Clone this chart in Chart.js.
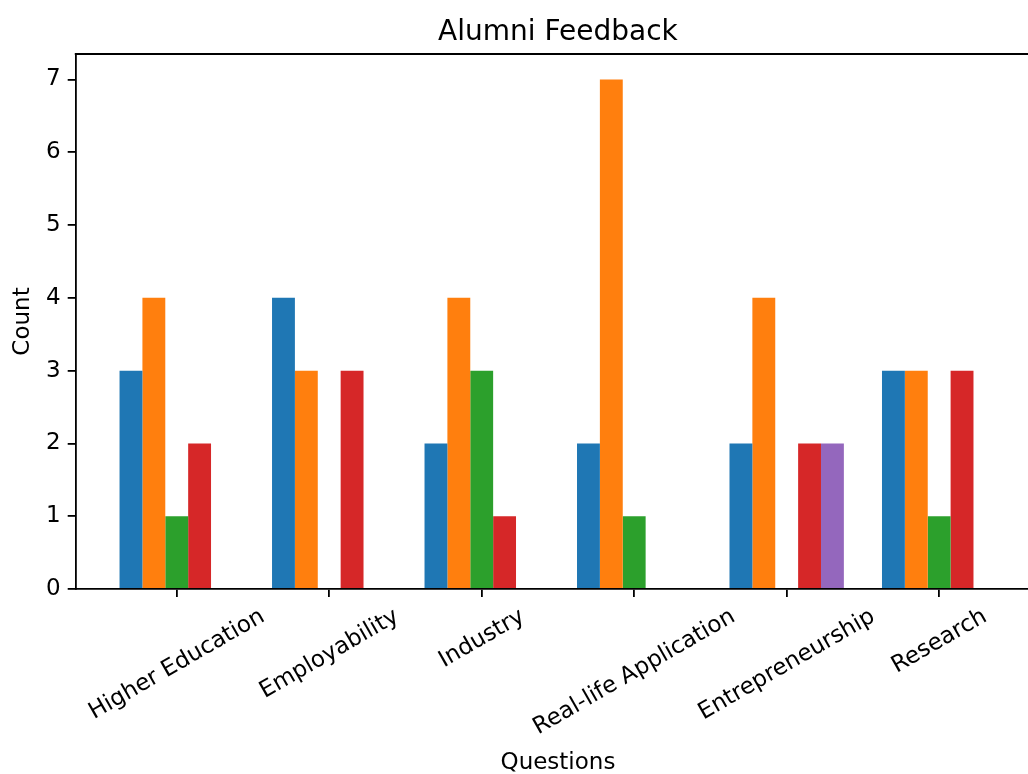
<!DOCTYPE html>
<html>
<head>
<meta charset="utf-8">
<script src="https://cdn.jsdelivr.net/npm/chart.js@4.4.1/dist/chart.umd.min.js"></script>
<style>
  html, body { margin: 0; padding: 0; background: #fff; overflow: hidden; }
  #wrap { width: 1028px; height: 774px; overflow: hidden; }
</style>
</head>
<body>
<div id="wrap">
  <canvas id="chart" width="1060" height="774"></canvas>
</div>
<script>
// data
const categories = ["Higher Education", "Employability", "Industry", "Real-life Application", "Entrepreneurship", "Research"];
const series1 = [3, 4, 2, 2, 2, 3];
const series2 = [4, 3, 4, 7, 4, 3];
const series3 = [1, 0, 3, 1, 0, 1];
const series4 = [2, 3, 1, 0, 2, 3];
const series5 = [0, 0, 0, 0, 2, 0];
const yTickValues = [0, 1, 2, 3, 4, 5, 6, 7];

const titleText = "Alumni Feedback";
const xTitle = "Questions";
const yTitle = "Count";

const colors = ["#1f77b4", "#ff7f0e", "#2ca02c", "#d62728", "#9467bd"];
const allSeries = [series1, series2, series3, series4, series5];

const FONT = "DejaVu Sans";
const TICK_SIZE = 23;

// draws the top spine, title, rotated x labels and x axis title
const axisText = {
  id: "axisText",
  afterDraw(chart) {
    const { ctx, chartArea, scales } = chart;
    const midX = (chartArea.left + chartArea.right) / 2;
    ctx.save();
    ctx.strokeStyle = "#000";
    ctx.lineWidth = 1.8;
    ctx.beginPath();
    ctx.moveTo(chartArea.left - 0.9, chartArea.top);
    ctx.lineTo(chartArea.right, chartArea.top);
    ctx.lineTo(chartArea.right, chartArea.bottom);
    ctx.stroke();

    ctx.fillStyle = "#000";
    ctx.textAlign = "center";
    ctx.textBaseline = "alphabetic";
    ctx.font = "28px '" + FONT + "'";
    ctx.fillText(titleText, midX, 40);

    ctx.font = TICK_SIZE + "px '" + FONT + "'";
    const ang = 30 * Math.PI / 180;
    const h = 0.968 * TICK_SIZE;
    categories.forEach((label, i) => {
      const x = scales.x.getPixelForValue(i);
      const w = ctx.measureText(label).width;
      const H = w * Math.sin(ang) + h * Math.cos(ang);
      const cy = chartArea.bottom + 16 + H / 2;
      ctx.save();
      ctx.translate(x, cy);
      ctx.rotate(-ang);
      ctx.fillText(label, 0, 0.276 * TICK_SIZE);
      ctx.restore();
    });

    ctx.fillText(xTitle, midX, 769);
    ctx.restore();
  }
};

const ctx = document.getElementById("chart").getContext("2d");
new Chart(ctx, {
  type: "bar",
  data: {
    datasets: allSeries.map((vals, k) => ({
      data: vals.map((v, i) => ({ x: i, y: v })),
      backgroundColor: colors[k],
      borderWidth: 0,
      categoryPercentage: 0.75,
      barPercentage: 1.0
    }))
  },
  options: {
    responsive: false,
    animation: false,
    devicePixelRatio: 1,
    layout: { padding: { top: 54, right: 19.8, bottom: 0, left: 0 } },
    plugins: {
      legend: { display: false },
      tooltip: { enabled: false },
      title: { display: false }
    },
    scales: {
      x: {
        type: "linear",
        min: -0.6625,
        max: 5.6625,
        offset: false,
        afterBuildTicks: (scale) => {
          scale.ticks = categories.map((c, i) => ({ value: i }));
        },
        afterFit: (scale) => { scale.height = 185; },
        ticks: { display: false },
        grid: {
          offset: false,
          drawOnChartArea: false,
          drawTicks: true,
          tickLength: 8,
          color: "#000",
          lineWidth: 1.8
        },
        border: { display: true, color: "#000", width: 1.8 }
      },
      y: {
        min: 0,
        max: 7.35,
        afterBuildTicks: (scale) => {
          scale.ticks = yTickValues.map((v) => ({ value: v }));
        },
        afterFit: (scale) => { scale.width = 75.7; },
        ticks: {
          color: "#000",
          padding: 7,
          font: { family: FONT, size: TICK_SIZE },
          callback: (v) => String(v)
        },
        grid: {
          drawOnChartArea: false,
          drawTicks: true,
          tickLength: 8,
          color: "#000",
          lineWidth: 1.8
        },
        border: { display: true, color: "#000", width: 1.8 },
        title: {
          display: true,
          text: yTitle,
          color: "#000",
          font: { family: FONT, size: TICK_SIZE },
          padding: { top: 9, bottom: 0 }
        }
      }
    }
  },
  plugins: [axisText]
});
</script>
</body>
</html>
